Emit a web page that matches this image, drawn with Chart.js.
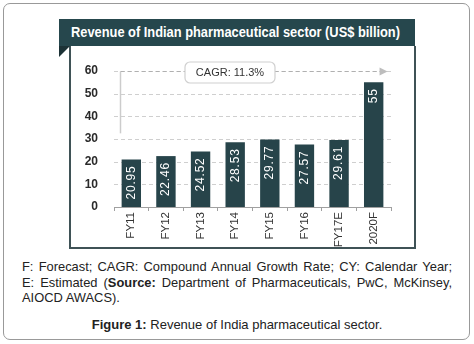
<!DOCTYPE html>
<html><head><meta charset="utf-8">
<script src="https://cdn.jsdelivr.net/npm/chart.js@4.4.1/dist/chart.umd.min.js"></script>
<style>
html,body{margin:0;padding:0;background:#fff;width:474px;height:344px;overflow:hidden;font-family:"Liberation Sans",Arial,sans-serif;}
#outer{position:absolute;left:3px;top:3px;width:465px;height:335px;border:1px solid #999;border-radius:7px;}
#banner{position:absolute;left:59px;top:19px;width:356px;height:27px;background:#26474d;color:#fff;font-weight:bold;font-size:14.5px;line-height:27px;white-space:nowrap;overflow:hidden;}
#title{display:inline-block;transform-origin:0 50%;position:absolute;left:12px;top:0;}
#fold{position:absolute;left:59px;top:46px;width:0;height:0;border-top:11px solid #1c3236;border-left:11px solid transparent;transform:scaleX(-1);}
#box{position:absolute;left:69px;top:46px;width:343px;height:201px;border:2px solid #3f5256;border-top:none;background:#fff;}
#cw{position:absolute;left:70px;top:47px;width:342px;height:200px;}
#note{position:absolute;left:22px;top:259px;width:430px;font-size:12.9px;line-height:15.6px;color:#222;}
#note .j{text-align:justify;text-align-last:justify;white-space:nowrap;}
#fig{position:absolute;left:0;top:317px;width:474px;text-align:center;font-size:13px;color:#222;}
</style></head>
<body>
<div id="outer"></div>
<div id="box"></div>
<div id="banner"><span id="title">Revenue of Indian pharmaceutical sector (US$ billion)</span></div>
<div id="fold"></div>
<div id="cw"><canvas id="c" width="342" height="200"></canvas></div>
<div id="note"><div class="j">F: Forecast; CAGR: Compound Annual Growth Rate; CY: Calendar Year;</div><div class="j">E: Estimated (<b>Source:</b> Department of Pharmaceuticals, PwC, McKinsey,</div><div>AIOCD AWACS).</div></div>
<div id="fig"><b>Figure 1:</b> Revenue of India pharmaceutical sector.</div>
<script>
const categories = ["FY11","FY12","FY13","FY14","FY15","FY16","FY17E","2020F"];
const revenue = [20.95, 22.46, 24.52, 28.53, 29.77, 27.57, 29.61, 55];
const valueLabels = ["20.95","22.46","24.52","28.53","29.77","27.57","29.61","55"];
const yTicks = [0,10,20,30,40,50,60];
const cagrLabel = "CAGR: 11.3%";

(function(){
  const t=document.getElementById('title');
  const w=t.getBoundingClientRect().width;
  const target=329;
  t.style.transform='scaleX('+(target/w)+')';
})();

const barColor = "#27444a";

const gridDash = {
  id:'gridDash',
  beforeDatasetsDraw(chart){
    const ctx=chart.ctx, y=chart.scales.y, a=chart.chartArea;
    ctx.save();
    ctx.strokeStyle='#cfcfcf';
    ctx.lineWidth=1;
    ctx.setLineDash([4,3]);
    yTicks.forEach(v=>{
      if(v===0) return;
      const py=Math.round(y.getPixelForValue(v))+0.5;
      ctx.beginPath();ctx.moveTo(a.left,py);ctx.lineTo(a.right,py);ctx.stroke();
    });
    ctx.restore();
  }
};

const overlay = {
  id:'overlay',
  afterDatasetsDraw(chart){
    const ctx=chart.ctx, x=chart.scales.x, y=chart.scales.y;
    const meta=chart.getDatasetMeta(0);
    ctx.save();
    ctx.fillStyle='#ffffff';
    ctx.font='12px "Liberation Sans", Arial, sans-serif';
    try{ctx.letterSpacing='0.8px';}catch(e){}
    ctx.textAlign='right';
    ctx.textBaseline='middle';
    meta.data.forEach((bar,i)=>{
      ctx.save();
      ctx.translate(bar.x, bar.y+6);
      ctx.rotate(-Math.PI/2);
      ctx.fillText(valueLabels[i],0,0);
      ctx.restore();
    });
    try{ctx.letterSpacing='0px';}catch(e){}
    ctx.restore();
    const yTop=Math.round(y.getPixelForValue(60))+0.5;
    const x0=Math.round(x.getPixelForValue(-0.33))+0.5;
    const x1=x.getPixelForValue(7.4);
    const yv=y.getPixelForValue(32.5);
    ctx.save();
    ctx.strokeStyle='#cccccc';
    ctx.lineWidth=1.5;
    ctx.beginPath();ctx.moveTo(x0,yTop);ctx.lineTo(x0,yv);ctx.stroke();
    ctx.setLineDash([4,3]);
    ctx.lineWidth=1;
    ctx.strokeStyle='#b0b0b0';
    ctx.beginPath();ctx.moveTo(x0,yTop);ctx.lineTo(x1-6,yTop);ctx.stroke();
    ctx.setLineDash([]);
    ctx.fillStyle='#bdbdbd';
    ctx.beginPath();ctx.moveTo(x1,yTop);ctx.lineTo(x1-8,yTop-4);ctx.lineTo(x1-8,yTop+4);ctx.closePath();ctx.fill();
    const cx=x.getPixelForValue(2.85);
    const bw=90,bh=21;
    const bx=cx-bw/2, by=yTop-9.5;
    ctx.beginPath();
    ctx.roundRect(bx,by,bw,bh,5);
    ctx.fillStyle='#fff';ctx.fill();
    ctx.strokeStyle='#d0d0d0';ctx.lineWidth=1.2;ctx.stroke();
    ctx.fillStyle='#333';
    ctx.font='11px "Liberation Sans", Arial, sans-serif';
    ctx.textAlign='center';ctx.textBaseline='middle';
    ctx.fillText(cagrLabel,cx,by+bh/2+0.5);
    ctx.restore();
  }
};

new Chart(document.getElementById('c'),{
  type:'bar',
  data:{labels:categories,datasets:[{data:revenue,backgroundColor:barColor,barPercentage:0.56,categoryPercentage:1}]},
  options:{
    responsive:false,animation:false,
    layout:{padding:{top:24,right:21,left:0,bottom:0}},
    plugins:{legend:{display:false},tooltip:{enabled:false}},
    scales:{
      x:{
        offset:true,
        grid:{offset:true,drawOnChartArea:false,drawTicks:true,tickLength:4,color:'#a0a0a0'},
        border:{display:true,color:'#a0a0a0',width:1},
        ticks:{maxRotation:90,minRotation:90,padding:1,color:'#333',font:{family:'"Liberation Sans", Arial, sans-serif',size:11.5}},
        afterFit(s){s.height=40;}
      },
      y:{
        min:0,max:60,
        afterBuildTicks(s){s.ticks=yTicks.map(v=>({value:v}));},
        grid:{display:false},
        border:{display:false},
        ticks:{padding:8,color:'#2a2a2a',font:{family:'"Liberation Sans", Arial, sans-serif',size:12,weight:'bold'}},
        afterFit(s){s.width=44;}
      }
    }
  },
  plugins:[gridDash,overlay]
});
</script>
</body></html>
